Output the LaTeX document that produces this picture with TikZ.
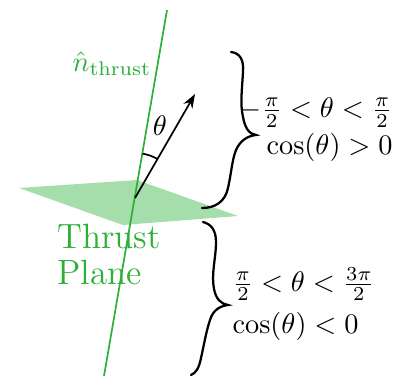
\documentclass[tikz,border=0pt]{standalone}
\usepackage{amsmath}
\usetikzlibrary{arrows.meta}
\definecolor{tgreen}{RGB}{44,176,55}
\begin{document}
\begin{tikzpicture}[x=0.3534pt,y=-0.3534pt,
  gline/.style={draw=tgreen,semithick},
  vec/.style={draw=black,semithick,-{Stealth[length=5pt,width=3.6pt]}},
  bracecurve/.style={draw=black,thick,line cap=round},
  lbl/.style={inner sep=0pt}]
\useasboundingbox (0,0) rectangle (405,376);
\coordinate (O) at (135,198);
\coordinate (ntop) at (167,10);
\coordinate (nbot) at (104,376);
\coordinate (tip) at (195,94);
\coordinate (pl) at (19,188);
\coordinate (pt) at (137,180);
\coordinate (pr) at (238,216);
\coordinate (pb) at (123,225);
\fill[tgreen!42] (pl) -- (pt) -- (pr) -- (pb) -- cycle;
\node[anchor=north west,inner sep=0pt,align=left,text=tgreen,font=\fontsize{12.4}{12.4}\selectfont] (plane) at (57,224) {Thrust\\Plane};
\draw[gline] (nbot) -- (ntop);
\draw[vec] (O) -- (tip);
\draw[semithick] (O) ++(-60.02:45) arc[start angle=-60.02,end angle=-80.34,radius=45];
\node[inner sep=0pt] (theta) at (160,126) {$\theta$};
\node[inner sep=0pt,text=tgreen] (nlabel) at (112,64) {$\hat{n}_{\text{thrust}}$};
% upper brace
\coordinate (b1s) at (231,52);
\coordinate (b1c) at (256,135);
\coordinate (b1e) at (202,208);
\draw[bracecurve] (b1s) .. controls (240,53) and (244,60) .. (243,72)
  .. controls (242,90) and (240,104) .. (243,117)
  .. controls (245,128) and (249,134) .. (b1c)
  .. controls (247,136) and (240,141) .. (236,150)
  .. controls (232,160) and (231,175) .. (228,188)
  .. controls (225,202) and (215,208) .. (b1e);
% lower brace
\coordinate (b2s) at (203,222);
\coordinate (b2c) at (228,305);
\coordinate (b2e) at (191,375);
\draw[bracecurve] (b2s) .. controls (211,224) and (216,230) .. (216,242)
  .. controls (216,258) and (211,274) .. (214,289)
  .. controls (216,299) and (221,304) .. (b2c)
  .. controls (220,306) and (213,310) .. (210,320)
  .. controls (206,332) and (204,345) .. (201,358)
  .. controls (199,368) and (196,373) .. (b2e);
\node[lbl,anchor=east,align=right] (pos) at (393,130) {$-\frac{\pi}{2}<\theta<\frac{\pi}{2}$\\[1pt]$\cos(\theta)>0$};
\node[lbl,anchor=west,align=left] (neg) at (232,304) {$\frac{\pi}{2}<\theta<\frac{3\pi}{2}$\\[3pt]$\cos(\theta)<0$};
\end{tikzpicture}
\end{document}
